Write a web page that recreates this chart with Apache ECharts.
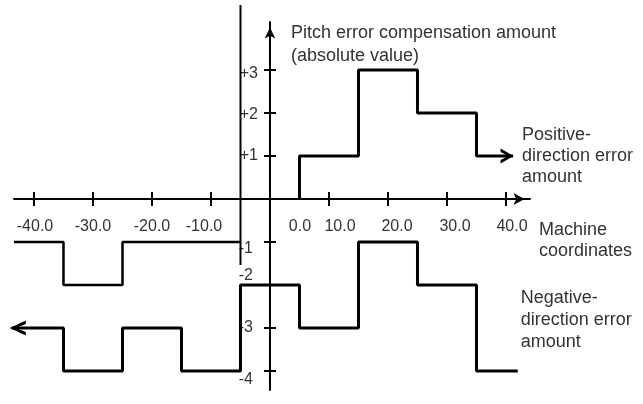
<!DOCTYPE html>
<html><head><meta charset="utf-8">
<script src="https://cdn.jsdelivr.net/npm/echarts@6/dist/echarts.min.js"></script>
<style>html,body{margin:0;padding:0;background:#fff}#c{width:643px;height:404px}</style>
</head><body><div id="c"></div>
<script>
// ---- tick values and labels ----
const xTickValues = [-40, -30, -20, -10, 0, 10, 20, 30, 40];
const xTickLabels = ['-40.0', '-30.0', '-20.0', '-10.0', '0.0', '10.0', '20.0', '30.0', '40.0'];
const yTickValues = [3, 2, 1, -1, -2, -3, -4];
const yTickLabels = ['+3', '+2', '+1', '-1', '-2', '-3', '-4'];

// ---- positive-direction error amount (step edges on machine coordinate, level between edges) ----
const posEdges = [5, 15, 25, 35, 41.2];
const posLevels = [1, 3, 2, 1];
// ---- upper line on the negative side ----
const upperEdges = [-43.4, -35, -25, -5];
const upperLevels = [-1, -2, -1];
// ---- negative-direction error amount ----
const negEdges = [-44.1, -35, -25, -15, -5, 5, 15, 25, 35, 42];
const negLevels = [-3, -4, -3, -4, -2, -3, -1, -2, -4];
// ---- vertical reference line ----
const boundaryX = [-5, -5];
const boundaryY = [4.51, -1.535];

// ---- axis extents ----
const xRange = [-43.39, 44.07];
const yRange = [-4.442, 4.116];

// ---- texts ----
const xName = 'Machine\ncoordinates';
const yName = 'Pitch error compensation amount\n(absolute value)';
const posName = 'Positive-\ndirection error\namount';
const negName = 'Negative-\ndirection error\namount';

// ---- layout / styling ----
const GRID = { left: 14, right: 113, top: 22, bottom: 14 };
const W = 643, H = 404;
const FONT = 'Liberation Sans, Arial, sans-serif';
const TXT = '#333';
const xLabelShift = [1, 0, 0, -7, 30, 11, 9, 8, 6];
const yLabelShift = [[0, 4], [0, 2], [0, 0], [5, 7], [5, -9], [5, 0], [5, 9]];

// pixel position of the zero lines inside the grid (axes are moved there with offset)
const gw = W - GRID.left - GRID.right, gh = H - GRID.top - GRID.bottom;
const zeroX = GRID.left + gw * (0 - xRange[0]) / (xRange[1] - xRange[0]);
const zeroY = GRID.top + gh * (yRange[1] - 0) / (yRange[1] - yRange[0]);
const offBottom = zeroY - (H - GRID.bottom);   // negative: moves the bottom axis up
const offTop = GRID.top - zeroY;               // negative: moves the top axis down
const offLeft = GRID.left - zeroX;             // negative: moves the left axis right
const offRight = zeroX - (W - GRID.right);     // negative: moves the right axis left

function stepPoints(edges, levels, fromZero) {
  const pts = [];
  if (fromZero) pts.push([edges[0], 0]);
  for (let i = 0; i < levels.length; i++) {
    pts.push([edges[i], levels[i]]);
    pts.push([edges[i + 1], levels[i]]);
  }
  return pts;
}

const xRich = {};
xTickValues.forEach((v, i) => {
  const d = xLabelShift[i];
  xRich['x' + i] = { fontSize: 16, fontFamily: FONT, color: TXT,
    padding: [0, d < 0 ? -2 * d : 0, 0, d > 0 ? 2 * d : 0] };
});
const yRich = {};
yTickValues.forEach((v, i) => {
  const [lx, dy] = yLabelShift[i];
  yRich['y' + i] = { fontSize: 16, fontFamily: FONT, color: TXT,
    padding: [dy > 0 ? 2 * dy : 0, lx, dy < 0 ? -2 * dy : 0, 0] };
});

const rightChevron = 'path://M0,0 L13,7.5 L0,15 L0,11.5 L8,7.5 L0,3.5 Z';
const leftChevron = 'path://M13,0 L0,7.5 L13,15 L13,11.5 L5,7.5 L13,3.5 Z';

const axisLineStyle = { color: '#000', width: 2 };
const xTicksNoZero = xTickValues.filter(v => v !== 0);
const yTicks = yTickValues.slice();

const chart = echarts.init(document.getElementById('c'), null, { renderer: 'canvas' });
chart.setOption({
  animation: false,
  backgroundColor: '#fff',
  grid: Object.assign({ containLabel: false, outerBoundsMode: 'none' }, GRID),
  xAxis: [
    {
      type: 'value', min: xRange[0], max: xRange[1], position: 'bottom', offset: offBottom,
      axisLine: { show: true, onZero: false, symbol: ['none', 'arrow'], symbolSize: [9, 11], symbolOffset: [0, -5.5], lineStyle: axisLineStyle },
      axisTick: { show: true, customValues: xTicksNoZero, length: 7, lineStyle: axisLineStyle },
      axisLabel: {
        show: true, customValues: xTickValues, margin: 20,
        formatter: v => { const i = xTickValues.indexOf(v); return '{x' + i + '|' + xTickLabels[i] + '}'; },
        rich: xRich
      },
      splitLine: { show: false },
      name: xName, nameLocation: 'end', nameGap: 9, nameMoveOverlap: false,
      nameTextStyle: { align: 'left', verticalAlign: 'top', padding: [21, 0, 0, 0], fontSize: 18, lineHeight: 21, color: TXT, fontFamily: FONT }
    },
    {
      type: 'value', min: xRange[0], max: xRange[1], position: 'top', offset: offTop,
      axisLine: { show: false, onZero: false },
      axisTick: { show: true, customValues: xTicksNoZero, length: 7, lineStyle: axisLineStyle },
      axisLabel: { show: false },
      splitLine: { show: false }
    }
  ],
  yAxis: [
    {
      type: 'value', min: yRange[0], max: yRange[1], position: 'left', offset: offLeft,
      axisLine: { show: true, onZero: false, symbol: ['none', 'arrow'], symbolSize: [8, 11], symbolOffset: [0, -5.5], lineStyle: axisLineStyle },
      axisTick: { show: true, customValues: yTicks, length: 6, lineStyle: axisLineStyle },
      axisLabel: {
        show: true, customValues: yTickValues, margin: 12,
        formatter: v => { const i = yTickValues.indexOf(v); return '{y' + i + '|' + yTickLabels[i] + '}'; },
        rich: yRich
      },
      splitLine: { show: false },
      name: yName, nameLocation: 'end', nameGap: 0, nameMoveOverlap: false,
      nameTextStyle: { align: 'left', verticalAlign: 'top', padding: [0, 0, 0, 21], fontSize: 18, lineHeight: 23, color: TXT, fontFamily: FONT }
    },
    {
      type: 'value', min: yRange[0], max: yRange[1], position: 'right', offset: offRight,
      axisLine: { show: false, onZero: false },
      axisTick: { show: true, customValues: yTicks, length: 6, lineStyle: axisLineStyle },
      axisLabel: { show: false },
      splitLine: { show: false }
    }
  ],
  series: [
    {
      type: 'line', name: 'boundary', silent: true, clip: false, symbol: 'none',
      data: boundaryX.map((x, i) => [x, boundaryY[i]]),
      lineStyle: { color: '#000', width: 2 }
    },
    {
      type: 'line', name: 'upper', silent: true, clip: false, symbol: 'none',
      data: stepPoints(upperEdges, upperLevels, false),
      lineStyle: { color: '#000', width: 2.5 }
    },
    {
      type: 'line', name: 'positive', silent: true, clip: false, symbol: 'none',
      data: stepPoints(posEdges, posLevels, true),
      lineStyle: { color: '#000', width: 3 },
      endLabel: { show: true, formatter: posName, distance: 9, align: 'left', verticalAlign: 'middle',
        padding: [14, 0, 0, 0], fontSize: 18, lineHeight: 21, color: TXT, fontFamily: FONT }
    },
    {
      type: 'line', name: 'negative', silent: true, clip: false, symbol: 'none',
      data: stepPoints(negEdges, negLevels, false),
      lineStyle: { color: '#000', width: 3 },
      endLabel: { show: true, formatter: negName, distance: 3, align: 'left', verticalAlign: 'bottom',
        padding: [0, 0, 18, 0], fontSize: 18, lineHeight: 22, color: TXT, fontFamily: FONT }
    },
    {
      type: 'scatter', name: 'arrows', silent: true, clip: false,
      itemStyle: { color: '#000', opacity: 1 },
      data: [
        { value: [posEdges[posEdges.length - 1], posLevels[posLevels.length - 1]], symbol: rightChevron, symbolSize: [13, 15], symbolOffset: [-6, 0] },
        { value: [negEdges[0], negLevels[0]], symbol: leftChevron, symbolSize: [16, 15], symbolOffset: [8, 0] }
      ]
    }
  ]
});
</script>
</body></html>
